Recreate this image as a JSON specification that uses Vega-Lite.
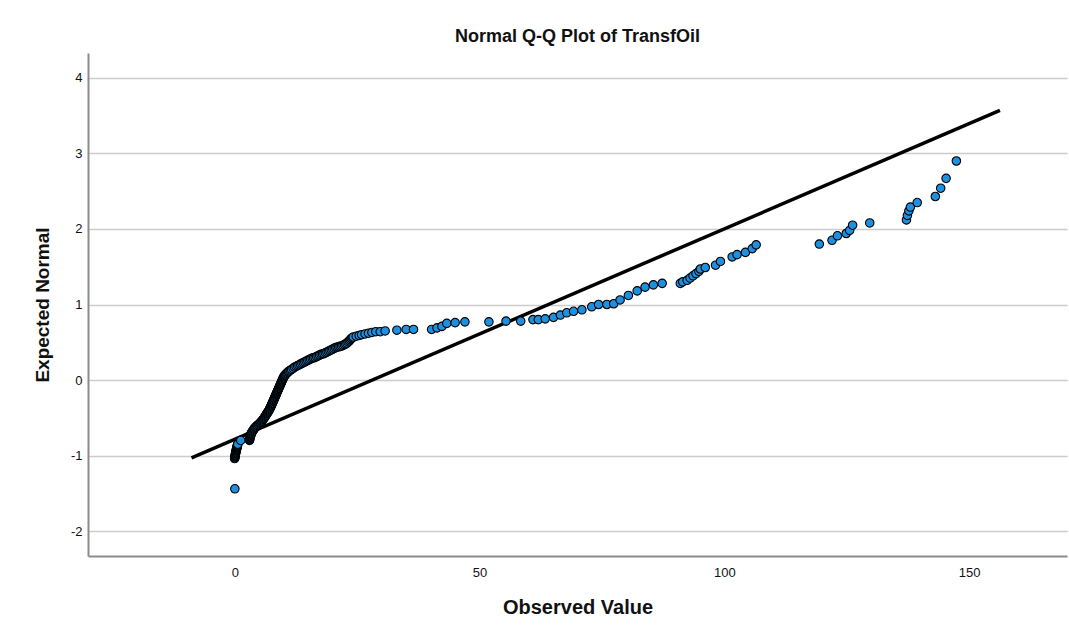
{
  "$schema": "https://vega.github.io/schema/vega-lite/v6.json",
  "autosize": "none",
  "width": 979,
  "height": 503,
  "padding": {"left": 88, "top": 53, "right": 2, "bottom": 78},
  "background": "white",
  "config": {
    "font": "Liberation Sans",
    "view": {"stroke": null},
    "axis": {
      "domainColor": "#8c8c8c",
      "domainWidth": 2,
      "gridColor": "#cccccc",
      "gridWidth": 1.5,
      "labelColor": "#111111",
      "labelFontSize": 13,
      "labelFont": "Liberation Sans",
      "titleFont": "Liberation Sans",
      "titleFontSize": 19,
      "titleFontWeight": "bold",
      "titleColor": "#111111",
      "ticks": false
    }
  },
  "title": {
    "text": "Normal Q-Q Plot of TransfOil",
    "font": "Liberation Sans",
    "fontSize": 18,
    "fontWeight": "bold",
    "color": "#111111",
    "anchor": "middle",
    "offset": 7
  },
  "datasets": {
    "points": [
      {"obs": 0.0, "exp": -1.44},
      {"obs": -0.05, "exp": -1.04},
      {"obs": 0.0, "exp": -1.03},
      {"obs": 0.02, "exp": -1.02},
      {"obs": 0.05, "exp": -1.01},
      {"obs": 0.08, "exp": -1.00},
      {"obs": 0.1, "exp": -0.99},
      {"obs": 0.12, "exp": -0.98},
      {"obs": 0.15, "exp": -0.97},
      {"obs": 0.18, "exp": -0.96},
      {"obs": 0.2, "exp": -0.95},
      {"obs": 0.25, "exp": -0.94},
      {"obs": 0.3, "exp": -0.93},
      {"obs": 0.33, "exp": -0.92},
      {"obs": 0.35, "exp": -0.91},
      {"obs": 0.4, "exp": -0.90},
      {"obs": 0.45, "exp": -0.89},
      {"obs": 0.48, "exp": -0.88},
      {"obs": 0.5, "exp": -0.87},
      {"obs": 0.55, "exp": -0.86},
      {"obs": 0.6, "exp": -0.85},
      {"obs": 1.2, "exp": -0.80},
      {"obs": 3.0, "exp": -0.80},
      {"obs": 3.0, "exp": -0.79},
      {"obs": 3.02, "exp": -0.78},
      {"obs": 3.05, "exp": -0.77},
      {"obs": 3.1, "exp": -0.76},
      {"obs": 3.15, "exp": -0.75},
      {"obs": 3.2, "exp": -0.74},
      {"obs": 3.25, "exp": -0.73},
      {"obs": 3.3, "exp": -0.72},
      {"obs": 3.35, "exp": -0.71},
      {"obs": 3.4, "exp": -0.70},
      {"obs": 3.5, "exp": -0.69},
      {"obs": 3.6, "exp": -0.68},
      {"obs": 3.7, "exp": -0.67},
      {"obs": 3.8, "exp": -0.66},
      {"obs": 3.9, "exp": -0.65},
      {"obs": 4.0, "exp": -0.64},
      {"obs": 4.15, "exp": -0.63},
      {"obs": 4.3, "exp": -0.62},
      {"obs": 4.45, "exp": -0.61},
      {"obs": 4.6, "exp": -0.60},
      {"obs": 4.8, "exp": -0.59},
      {"obs": 5.0, "exp": -0.58},
      {"obs": 5.15, "exp": -0.57},
      {"obs": 5.25, "exp": -0.56},
      {"obs": 5.4, "exp": -0.55},
      {"obs": 5.55, "exp": -0.54},
      {"obs": 5.65, "exp": -0.53},
      {"obs": 5.8, "exp": -0.52},
      {"obs": 5.9, "exp": -0.51},
      {"obs": 6.0, "exp": -0.50},
      {"obs": 6.1, "exp": -0.49},
      {"obs": 6.2, "exp": -0.48},
      {"obs": 6.3, "exp": -0.47},
      {"obs": 6.4, "exp": -0.46},
      {"obs": 6.5, "exp": -0.45},
      {"obs": 6.6, "exp": -0.44},
      {"obs": 6.7, "exp": -0.43},
      {"obs": 6.8, "exp": -0.42},
      {"obs": 6.9, "exp": -0.41},
      {"obs": 7.0, "exp": -0.40},
      {"obs": 7.08, "exp": -0.39},
      {"obs": 7.15, "exp": -0.38},
      {"obs": 7.22, "exp": -0.37},
      {"obs": 7.3, "exp": -0.36},
      {"obs": 7.37, "exp": -0.35},
      {"obs": 7.44, "exp": -0.34},
      {"obs": 7.5, "exp": -0.33},
      {"obs": 7.57, "exp": -0.32},
      {"obs": 7.64, "exp": -0.31},
      {"obs": 7.7, "exp": -0.30},
      {"obs": 7.77, "exp": -0.29},
      {"obs": 7.84, "exp": -0.28},
      {"obs": 7.9, "exp": -0.27},
      {"obs": 7.97, "exp": -0.26},
      {"obs": 8.04, "exp": -0.25},
      {"obs": 8.1, "exp": -0.24},
      {"obs": 8.17, "exp": -0.23},
      {"obs": 8.24, "exp": -0.22},
      {"obs": 8.3, "exp": -0.21},
      {"obs": 8.37, "exp": -0.20},
      {"obs": 8.44, "exp": -0.19},
      {"obs": 8.5, "exp": -0.18},
      {"obs": 8.57, "exp": -0.17},
      {"obs": 8.64, "exp": -0.16},
      {"obs": 8.7, "exp": -0.15},
      {"obs": 8.77, "exp": -0.14},
      {"obs": 8.84, "exp": -0.13},
      {"obs": 8.9, "exp": -0.12},
      {"obs": 8.97, "exp": -0.11},
      {"obs": 9.04, "exp": -0.10},
      {"obs": 9.1, "exp": -0.09},
      {"obs": 9.17, "exp": -0.08},
      {"obs": 9.24, "exp": -0.07},
      {"obs": 9.3, "exp": -0.06},
      {"obs": 9.37, "exp": -0.05},
      {"obs": 9.44, "exp": -0.04},
      {"obs": 9.5, "exp": -0.03},
      {"obs": 9.57, "exp": -0.02},
      {"obs": 9.64, "exp": -0.01},
      {"obs": 9.7, "exp": 0.0},
      {"obs": 9.77, "exp": 0.01},
      {"obs": 9.84, "exp": 0.02},
      {"obs": 9.9, "exp": 0.03},
      {"obs": 10.0, "exp": 0.04},
      {"obs": 10.1, "exp": 0.05},
      {"obs": 10.2, "exp": 0.06},
      {"obs": 10.33, "exp": 0.07},
      {"obs": 10.46, "exp": 0.08},
      {"obs": 10.6, "exp": 0.09},
      {"obs": 10.8, "exp": 0.10},
      {"obs": 10.95, "exp": 0.11},
      {"obs": 11.1, "exp": 0.12},
      {"obs": 11.35, "exp": 0.13},
      {"obs": 11.6, "exp": 0.14},
      {"obs": 11.9, "exp": 0.155},
      {"obs": 12.2, "exp": 0.17},
      {"obs": 12.5, "exp": 0.18},
      {"obs": 12.8, "exp": 0.19},
      {"obs": 13.1, "exp": 0.20},
      {"obs": 13.4, "exp": 0.21},
      {"obs": 13.7, "exp": 0.22},
      {"obs": 14.0, "exp": 0.23},
      {"obs": 14.3, "exp": 0.24},
      {"obs": 14.6, "exp": 0.25},
      {"obs": 14.9, "exp": 0.26},
      {"obs": 15.2, "exp": 0.27},
      {"obs": 15.5, "exp": 0.28},
      {"obs": 15.8, "exp": 0.29},
      {"obs": 16.1, "exp": 0.295},
      {"obs": 16.4, "exp": 0.30},
      {"obs": 16.7, "exp": 0.31},
      {"obs": 17.0, "exp": 0.32},
      {"obs": 17.3, "exp": 0.33},
      {"obs": 17.6, "exp": 0.34},
      {"obs": 17.9, "exp": 0.345},
      {"obs": 18.2, "exp": 0.35},
      {"obs": 18.5, "exp": 0.36},
      {"obs": 18.8, "exp": 0.37},
      {"obs": 19.1, "exp": 0.38},
      {"obs": 19.4, "exp": 0.39},
      {"obs": 19.7, "exp": 0.40},
      {"obs": 20.0, "exp": 0.41},
      {"obs": 20.3, "exp": 0.42},
      {"obs": 20.6, "exp": 0.43},
      {"obs": 20.9, "exp": 0.435},
      {"obs": 21.2, "exp": 0.44},
      {"obs": 21.5, "exp": 0.445},
      {"obs": 21.8, "exp": 0.45},
      {"obs": 22.1, "exp": 0.46},
      {"obs": 22.4, "exp": 0.47},
      {"obs": 22.65, "exp": 0.48},
      {"obs": 22.9, "exp": 0.49},
      {"obs": 23.15, "exp": 0.505},
      {"obs": 23.4, "exp": 0.52},
      {"obs": 23.6, "exp": 0.535},
      {"obs": 23.8, "exp": 0.55},
      {"obs": 24.0, "exp": 0.56},
      {"obs": 24.2, "exp": 0.57},
      {"obs": 24.8, "exp": 0.58},
      {"obs": 25.4, "exp": 0.59},
      {"obs": 25.9, "exp": 0.60},
      {"obs": 26.6, "exp": 0.61},
      {"obs": 27.3, "exp": 0.62},
      {"obs": 28.0, "exp": 0.63},
      {"obs": 28.8, "exp": 0.64},
      {"obs": 29.7, "exp": 0.64},
      {"obs": 30.7, "exp": 0.65},
      {"obs": 33.1, "exp": 0.66},
      {"obs": 35.0, "exp": 0.67},
      {"obs": 36.5, "exp": 0.67},
      {"obs": 40.2, "exp": 0.67},
      {"obs": 41.3, "exp": 0.69},
      {"obs": 42.3, "exp": 0.71},
      {"obs": 43.3, "exp": 0.75},
      {"obs": 45.0, "exp": 0.76},
      {"obs": 47.0, "exp": 0.77},
      {"obs": 51.9, "exp": 0.77},
      {"obs": 55.4, "exp": 0.78},
      {"obs": 58.4, "exp": 0.78},
      {"obs": 60.9, "exp": 0.80},
      {"obs": 62.0, "exp": 0.80},
      {"obs": 63.4, "exp": 0.81},
      {"obs": 65.1, "exp": 0.83},
      {"obs": 66.5, "exp": 0.86},
      {"obs": 67.8, "exp": 0.89},
      {"obs": 69.2, "exp": 0.91},
      {"obs": 70.9, "exp": 0.93},
      {"obs": 72.9, "exp": 0.97},
      {"obs": 74.3, "exp": 1.00},
      {"obs": 76.0, "exp": 1.00},
      {"obs": 77.4, "exp": 1.01},
      {"obs": 78.7, "exp": 1.06},
      {"obs": 80.4, "exp": 1.12},
      {"obs": 82.2, "exp": 1.18},
      {"obs": 83.8, "exp": 1.23},
      {"obs": 85.5, "exp": 1.26},
      {"obs": 87.3, "exp": 1.28},
      {"obs": 91.0, "exp": 1.28},
      {"obs": 91.5, "exp": 1.30},
      {"obs": 92.4, "exp": 1.32},
      {"obs": 93.0, "exp": 1.35},
      {"obs": 93.6, "exp": 1.38},
      {"obs": 94.2, "exp": 1.41},
      {"obs": 94.8, "exp": 1.44},
      {"obs": 95.1, "exp": 1.47},
      {"obs": 96.1, "exp": 1.49},
      {"obs": 98.2, "exp": 1.52},
      {"obs": 99.2, "exp": 1.57},
      {"obs": 101.6, "exp": 1.63},
      {"obs": 102.6, "exp": 1.66},
      {"obs": 104.3, "exp": 1.69},
      {"obs": 105.7, "exp": 1.74},
      {"obs": 106.5, "exp": 1.79},
      {"obs": 119.4, "exp": 1.80},
      {"obs": 122.0, "exp": 1.85},
      {"obs": 123.1, "exp": 1.91},
      {"obs": 124.9, "exp": 1.94},
      {"obs": 125.6, "exp": 1.98},
      {"obs": 126.2, "exp": 2.05},
      {"obs": 129.7, "exp": 2.08},
      {"obs": 137.2, "exp": 2.12},
      {"obs": 137.4, "exp": 2.18},
      {"obs": 137.7, "exp": 2.24},
      {"obs": 138.0, "exp": 2.29},
      {"obs": 139.4, "exp": 2.35},
      {"obs": 143.1, "exp": 2.43},
      {"obs": 144.2, "exp": 2.54},
      {"obs": 145.3, "exp": 2.67},
      {"obs": 147.4, "exp": 2.90}
    ],
    "refline": [
      {"obs": -8.85, "exp": -1.03},
      {"obs": 156.3, "exp": 3.57}
    ]
  },
  "layer": [
    {
      "data": {"name": "refline"},
      "mark": {"type": "line", "color": "#000000", "strokeWidth": 3.5, "clip": false},
      "encoding": {
        "x": {
          "field": "obs",
          "type": "quantitative",
          "scale": {"domain": [-30, 170], "nice": false, "zero": false},
          "axis": {
            "title": "Observed Value",
            "values": [0, 50, 100, 150],
            "labelExpr": "'' + datum.value",
            "grid": false,
            "labelPadding": 10,
            "titlePadding": 18,
            "titleFontSize": 20
          }
        },
        "y": {
          "field": "exp",
          "type": "quantitative",
          "scale": {"domain": [-2.33, 4.33], "nice": false, "zero": false},
          "axis": {
            "title": "Expected Normal",
            "values": [-2, -1, 0, 1, 2, 3, 4],
            "labelExpr": "'' + datum.value",
            "grid": true,
            "labelPadding": 6,
            "titlePadding": 18
          }
        }
      }
    },
    {
      "data": {"name": "points"},
      "mark": {"type": "point", "filled": true, "size": 72, "fill": "#1e90e0", "fillOpacity": 1, "stroke": "#000000", "strokeWidth": 1.1, "strokeOpacity": 1},
      "encoding": {
        "x": {"field": "obs", "type": "quantitative"},
        "y": {"field": "exp", "type": "quantitative"}
      }
    }
  ]
}
